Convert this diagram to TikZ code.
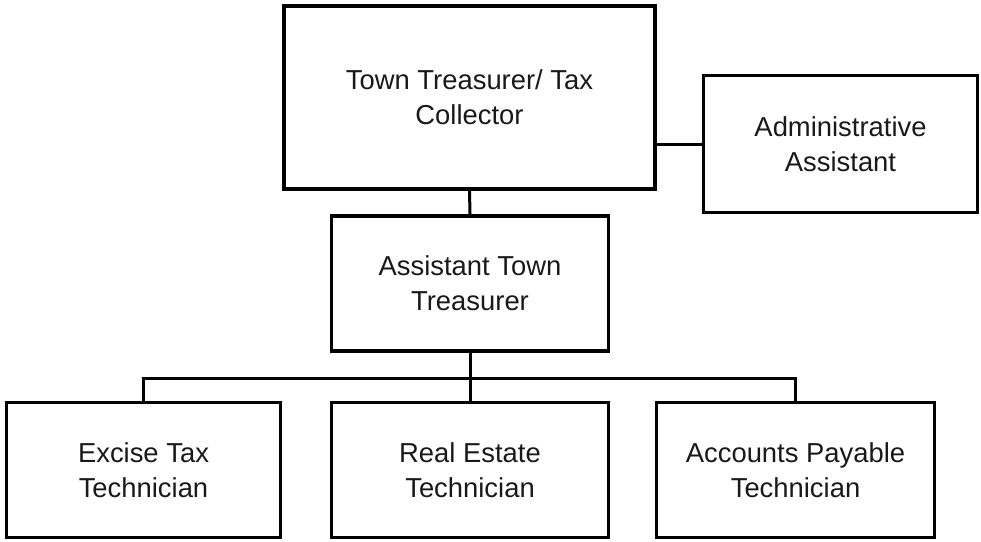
\documentclass[tikz,border=0pt]{standalone}
\usepackage{fontspec}
\setmainfont{Liberation Sans}
\begin{document}
\begin{tikzpicture}[x=1pt,y=-1pt,
  box/.style={draw=black,line width=3.8pt,rectangle,inner sep=0pt,align=center,
    font=\fontsize{27.4}{35}\selectfont,text=black!90},
  conn/.style={draw=black,line width=3pt}]
\useasboundingbox (0,0) rectangle (981,541);
\node[box,minimum width=371pt,minimum height=183pt] (top) at (469.5,97.5) {Town Treasurer/ Tax\\Collector};
\node[box,minimum width=274pt,minimum height=137pt] (admin) at (840.5,144) {Administrative\\Assistant};
\node[box,minimum width=277pt,minimum height=135pt] (asst) at (470,283.5) {Assistant Town\\Treasurer};
\node[box,minimum width=274pt,minimum height=135pt] (excise) at (143.5,470) {Excise Tax\\Technician};
\node[box,minimum width=277pt,minimum height=135pt] (real) at (470,470) {Real Estate\\Technician};
\node[box,minimum width=278pt,minimum height=135pt] (acct) at (795.5,470) {Accounts Payable\\Technician};
\coordinate (bl) at (143.5,378);
\coordinate (br) at (795.5,378);
\draw[conn] (top.east |- admin.west) -- (admin.west);
\draw[conn] (top.south) -- (asst.north);
\draw[conn] (asst.south) -- (real.north);
\draw[conn] (excise.north) -- (bl) -- (br) -- (acct.north);
\end{tikzpicture}
\end{document}
